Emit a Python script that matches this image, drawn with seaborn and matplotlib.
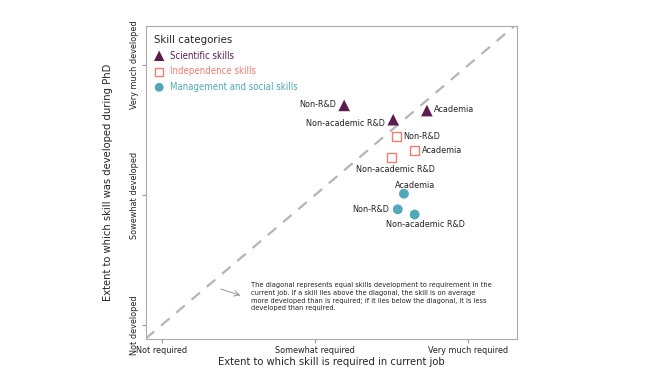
import pandas as pd
import matplotlib
matplotlib.use("Agg")
import matplotlib.pyplot as plt
import seaborn as sns

# values (1 = not, 2 = somewhat, 3 = very much)
categories = ["Scientific skills", "Independence skills", "Management and social skills"]
jobs = ["Non-R&D", "Non-academic R&D", "Academia"]

sci_required = [2.19, 2.51, 2.73]
sci_developed = [2.69, 2.58, 2.65]
ind_required = [2.53, 2.50, 2.65]
ind_developed = [2.45, 2.29, 2.34]
mgmt_required = [2.54, 2.65, 2.58]
mgmt_developed = [1.89, 1.85, 2.01]

x_ticklabels = ["Not required", "Somewhat required", "Very much required"]
y_ticklabels = ["Not developed", "Sowewhat developed", "Very much developed"]

rows = []
for cat, xs, ys in [(categories[0], sci_required, sci_developed),
                    (categories[1], ind_required, ind_developed),
                    (categories[2], mgmt_required, mgmt_developed)]:
    for job, x, y in zip(jobs, xs, ys):
        rows.append({"category": cat, "job": job, "required": x, "developed": y})
df = pd.DataFrame(rows)

colors = {categories[0]: "#5c1d4e", categories[1]: "#f27d70", categories[2]: "#52a8b8"}
markers = {categories[0]: "^", categories[1]: "s", categories[2]: "o"}

# label offsets in points (dx, dy, ha)
label_pos = {
    (categories[0], "Non-R&D"): (-6, 1, "right"),
    (categories[0], "Non-academic R&D"): (-6, -3, "right"),
    (categories[0], "Academia"): (5, 1, "left"),
    (categories[1], "Non-R&D"): (5, 0, "left"),
    (categories[1], "Academia"): (5, 0, "left"),
    (categories[1], "Non-academic R&D"): (3, -9, "center"),
    (categories[2], "Academia"): (8, 6, "center"),
    (categories[2], "Non-R&D"): (-6, 0, "right"),
    (categories[2], "Non-academic R&D"): (8, -7, "center"),
}

sns.set_style("white")
plt.rcParams['font.family'] = ['DejaVu Sans']
plt.rcParams['font.stretch'] = 'condensed'

fig = plt.figure(figsize=(6.45, 3.85), dpi=100)
ax = fig.add_axes([0.226, 0.119, 0.576, 0.813])

lim = (0.895, 3.32)
ax.plot(lim, lim, color="#b5b5b5", lw=1.6, ls=(0, (5, 4)), zorder=1)

for cat in categories:
    sub = df[df["category"] == cat]
    if markers[cat] == "s":
        sns.scatterplot(data=sub, x="required", y="developed", marker="s", s=42,
                        facecolors="none", edgecolor=colors[cat], linewidth=1.0,
                        ax=ax, label=cat, zorder=3)
    elif markers[cat] == "^":
        sns.scatterplot(data=sub, x="required", y="developed", marker="^", s=70,
                        color=colors[cat], edgecolor="none", ax=ax, label=cat, zorder=3)
    else:
        sns.scatterplot(data=sub, x="required", y="developed", marker="o", s=50,
                        color=colors[cat], edgecolor="none", ax=ax, label=cat, zorder=3)
    for _, r in sub.iterrows():
        dx, dy, ha = label_pos[(cat, r["job"])]
        ax.annotate(r["job"], (r["required"], r["developed"]), xytext=(dx, dy),
                    textcoords="offset points", ha=ha, va="center", fontsize=6.5,
                    color="#222222")

ax.set_xlim(lim)
ax.set_ylim(0.89, 3.30)
ax.set_xticks([1, 2, 3])
ax.set_xticklabels(x_ticklabels, fontsize=6.5, color="#222222")
ax.set_yticks([1, 2, 3])
ax.set_yticklabels(y_ticklabels, fontsize=6.5, color="#222222", rotation=90, va="center")
ax.tick_params(axis="both", length=3, width=0.8, color="#999999", direction="out", pad=2)
ax.tick_params(axis="x", bottom=True)
ax.tick_params(axis="y", left=True)
for sp in ax.spines.values():
    sp.set_color("#aaaaaa")
    sp.set_linewidth(0.8)

ax.set_xlabel("Extent to which skill is required in current job", fontsize=8.0, labelpad=1)
ax.set_ylabel("Extent to which skill was developed during PhD", fontsize=8.0, labelpad=12)

leg = ax.legend(title="Skill categories", loc="upper left", frameon=False, fontsize=6.9,
                title_fontsize=8.2, labelcolor=[colors[c] for c in categories],
                handletextpad=0.6, borderaxespad=0.5, labelspacing=0.6,
                handlelength=1.0, markerscale=0.9, handleheight=0.8)
leg._legend_box.align = "left"

note = ("The diagonal represents equal skills development to requirement in the\n"
        "current job. If a skill lies above the diagonal, the skill is on average\n"
        "more developed than is required; if it lies below the diagonal, it is less\n"
        "developed than required.")
ax.text(0.282, 0.182, note, transform=ax.transAxes, fontsize=5.35, va="top", ha="left",
        color="#222222", linespacing=1.35)
ax.annotate("", xy=(0.262, 0.137), xytext=(0.195, 0.163), xycoords="axes fraction",
            arrowprops=dict(arrowstyle="->", color="#999999", lw=0.7))

fig.savefig("out.png", dpi=100)
